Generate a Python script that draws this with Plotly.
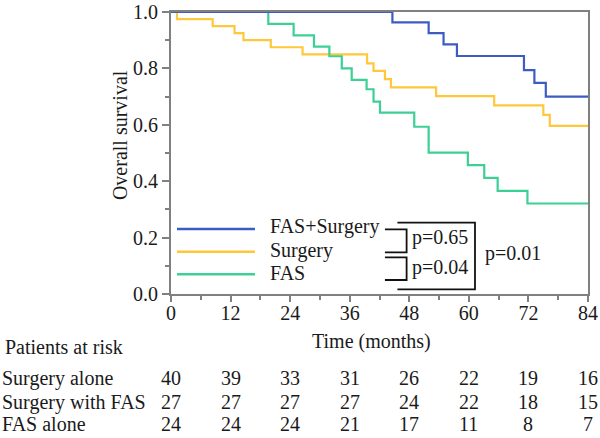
import plotly.graph_objects as go

# Kaplan-Meier steps (months, survival)
names = ["FAS+Surgery", "Surgery", "FAS"]
colors = ["#3d5cc2", "#ffc73a", "#3ccf96"]

t_fas_surg = [0, 44.6, 51.9, 54.9, 57.6, 71.1, 73.2, 75.5, 84]
s_fas_surg = [1.0, 0.963, 0.925, 0.885, 0.844, 0.794, 0.749, 0.70, 0.70]

t_surg = [0, 1.2, 8.4, 12.8, 14.6, 20.1, 26.5, 39.5, 40.8, 43.1, 44.3, 53.4, 65.1, 75.0, 76.3, 84]
s_surg = [1.0, 0.975, 0.95, 0.925, 0.90, 0.875, 0.85, 0.818, 0.791, 0.762, 0.733, 0.702, 0.669, 0.635, 0.596, 0.596]

t_fas = [0, 19.6, 24.7, 28.8, 31.9, 34.4, 36.4, 39.4, 40.8, 42.1, 49.0, 51.9, 59.8, 63.1, 65.8, 71.8, 84]
s_fas = [1.0, 0.958, 0.917, 0.877, 0.843, 0.80, 0.759, 0.726, 0.682, 0.643, 0.593, 0.501, 0.457, 0.412, 0.366, 0.321, 0.321]

# patients at risk table
risk_months = [0, 12, 24, 36, 48, 60, 72, 84]
risk_rows = ["Surgery alone", "Surgery with FAS", "FAS alone"]
risk_surg = [40, 39, 33, 31, 26, 22, 19, 16]
risk_surg_fas = [27, 27, 27, 27, 24, 22, 18, 15]
risk_fas = [24, 24, 24, 21, 17, 11, 8, 7]

p_values = ["p=0.65", "p=0.04", "p=0.01"]

FONT = "Liberation Serif"
AX = "#808080"

fig = go.Figure()
series = [(t_surg, s_surg, 1), (t_fas, s_fas, 2), (t_fas_surg, s_fas_surg, 0)]
for t, s, i in series:
    fig.add_trace(go.Scatter(x=t, y=s, mode="lines", line_shape="hv",
                             line=dict(color=colors[i], width=2.2),
                             name=names[i], showlegend=False))

fig.update_xaxes(range=[0, 84], tickvals=risk_months, ticks="outside", ticklen=6,
                 tickwidth=1.5, tickcolor=AX, showline=True, linecolor=AX, linewidth=2,
                 mirror=True, showgrid=False, zeroline=False, ticklabeloverflow="allow",
                 ticklabelstandoff=-6, automargin=False, layer="above traces",
                 minor=dict(dtick=6, ticks="outside", ticklen=4, tickcolor=AX, tickwidth=1.5))
fig.update_yaxes(range=[0, 1], dtick=0.2, tickformat=".1f", ticks="outside", ticklen=7,
                 tickwidth=1.5, tickcolor=AX, showline=True, linecolor=AX, linewidth=2,
                 mirror=True, showgrid=False, zeroline=False, ticklabeloverflow="allow",
                 automargin=False, layer="above traces",
                 minor=dict(dtick=0.1, ticks="outside", ticklen=4, tickcolor=AX, tickwidth=1.5))

# axis titles sit off-centre in the original, so they are placed as annotations
fig.add_annotation(xref="paper", yref="paper", x=0.480, y=-0.167, text="Time (months)",
                   showarrow=False, xanchor="center", yanchor="middle", font=dict(size=20))
fig.add_annotation(xref="paper", yref="paper", x=-0.122, y=0.564, text="Overall survival",
                   textangle=-90, showarrow=False, xanchor="center", yanchor="middle",
                   font=dict(size=20))

# hand-drawn legend (long line samples like the original)
leg_y_line = [0.2305, 0.150, 0.0699]
leg_y_text = [0.239, 0.156, 0.0734]
for i in range(3):
    fig.add_shape(type="line", xref="paper", yref="paper", x0=0.0144, x1=0.2014,
                  y0=leg_y_line[i], y1=leg_y_line[i], line=dict(color=colors[i], width=2.5))
    fig.add_annotation(xref="paper", yref="paper", x=0.2326, y=leg_y_text[i], text=names[i],
                       showarrow=False, xanchor="left", yanchor="middle", font=dict(size=20))

# p-value brackets
brackets = [(0.513, 0.565, 0.2294, 0.1479), (0.513, 0.565, 0.1301, 0.0496), (0.543, 0.729, 0.2528, 0.0167)]
for x0, x1, ya, yb in brackets:
    fig.add_shape(type="path", xref="paper", yref="paper",
                  path=f"M {x0} {ya} L {x1} {ya} L {x1} {yb} L {x0} {yb}",
                  line=dict(color="#111111", width=1.8))
p_pos = [(0.573, 0.1986), (0.573, 0.0922), (0.748, 0.1443)]
for (px, py), txt in zip(p_pos, p_values):
    fig.add_annotation(xref="paper", yref="paper", x=px, y=py, text=txt, showarrow=False,
                       xanchor="left", yanchor="middle", font=dict(size=20))

# patients at risk
fig.add_annotation(xref="paper", yref="paper", x=-0.403, y=-0.188, text="Patients at risk",
                   showarrow=False, xanchor="left", yanchor="middle", font=dict(size=20))
row_y = [-0.298, -0.383, -0.462]
for label, counts, ry in zip(risk_rows, [risk_surg, risk_surg_fas, risk_fas], row_y):
    fig.add_annotation(xref="paper", yref="paper", x=-0.41, y=ry, text=label, showarrow=False,
                       xanchor="left", yanchor="middle", font=dict(size=20))
    for m, c in zip(risk_months, counts):
        fig.add_annotation(xref="x", yref="paper", x=m, y=ry, text=str(c), showarrow=False,
                           xanchor="center", yanchor="middle", font=dict(size=20))

fig.update_layout(width=600, height=438, margin=dict(l=171, r=12, t=12, b=144),
                  plot_bgcolor="white", paper_bgcolor="white",
                  font=dict(family=FONT, size=20, color="#1a1a1a"))

# drop the browser's default 8px body margin so the figure sits at the page corner
fig.write_html("out.html", config={"displayModeBar": False},
               post_script="document.body.style.margin='0px';")
